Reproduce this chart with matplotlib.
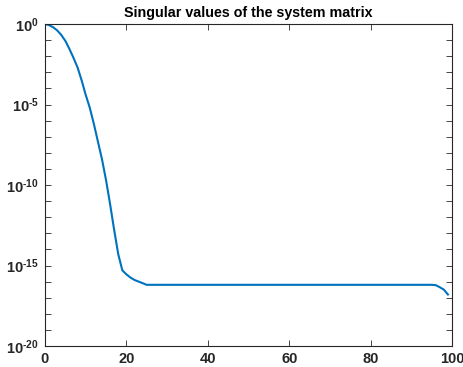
import numpy as np
import matplotlib
matplotlib.use("Agg")
import matplotlib.pyplot as plt
from matplotlib.ticker import FixedLocator, FuncFormatter

plt.rcParams['font.family'] = ['Liberation Sans', 'DejaVu Sans']
plt.rcParams['mathtext.fontset'] = 'custom'
plt.rcParams['mathtext.rm'] = 'Liberation Sans:bold'
plt.rcParams['mathtext.bf'] = 'Liberation Sans:bold'
plt.rcParams['mathtext.default'] = 'rm'

# singular value index
index = np.arange(100)

# log10 of the singular values
log_sigma = [
    0.0, -0.07, -0.2, -0.4, -0.68, -1.05, -1.55, -2.1, -2.7, -3.5,
    -4.4, -5.2, -6.2, -7.3, -8.4, -9.7, -11.2, -12.8, -14.3, -15.3,
    -15.55, -15.75, -15.9, -16.0, -16.1, -16.2,
] + [-16.2] * 70 + [-16.22, -16.35, -16.5, -16.8]

sigma = 10.0 ** np.array(log_sigma)

title_text = "Singular values of the system matrix"
x_ticks = [0, 20, 40, 60, 80, 100]
y_label_exps = [0, -5, -10, -15, -20]

fig = plt.figure(figsize=(4.64, 3.67), dpi=100)
ax = fig.add_axes([45 / 464, 1 - 346 / 367, 407 / 464, 322 / 367])

ax.semilogy(index, sigma, color='#0072BD', lw=1.5)
ax.set_xlim(0, 100)
ax.set_ylim(1e-20, 1e0)

ax.xaxis.set_major_locator(FixedLocator(x_ticks))
ax.yaxis.set_major_locator(FixedLocator([10.0 ** e for e in range(-20, 1)]))
ax.yaxis.set_minor_locator(FixedLocator([]))


def ylab(v, pos):
    e = int(round(np.log10(v)))
    if e in y_label_exps:
        return r"$\mathbf{10}^{\text{%d}}$" % e
    return ""


ax.yaxis.set_major_formatter(FuncFormatter(ylab))

axis_color = '#262626'
for s in ax.spines.values():
    s.set_color(axis_color)
    s.set_linewidth(0.8)
ax.tick_params(axis='both', which='both', direction='in', top=True, right=True,
               length=4, width=0.6, colors=axis_color)
ax.tick_params(axis='y', labelsize=10.5, pad=4.5)
ax.tick_params(axis='x', labelsize=10.5, pad=4)
for lab in ax.get_xticklabels():
    lab.set_fontweight('bold')

ax.set_title(title_text, fontsize=10.3, fontweight='bold', color='black', pad=5)

fig.savefig("out.png", dpi=100)
